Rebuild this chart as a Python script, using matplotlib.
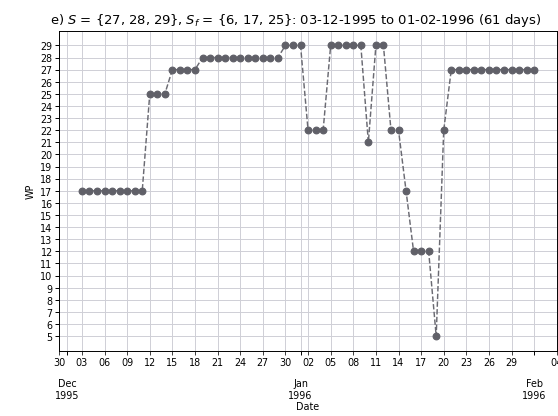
import matplotlib
matplotlib.use("Agg")
import matplotlib.pyplot as plt
import matplotlib.dates as mdates
import numpy as np
import pandas as pd

# daily WP values, 03-12-1995 .. 01-02-1996
start = "1995-12-03"
end = "1996-02-01"
wp = [17, 17, 17, 17, 17, 17, 17, 17, 17,
      25, 25, 25,
      27, 27, 27, 27,
      28, 28, 28, 28, 28, 28, 28, 28, 28, 28, 28,
      29, 29, 29,
      22, 22, 22,
      29, 29, 29, 29, 29,
      21,
      29, 29,
      22, 22,
      17,
      12, 12, 12,
      5,
      22,
      27, 27, 27, 27, 27, 27, 27, 27, 27, 27, 27, 27]
dates = pd.date_range(start, end, freq="D")

title = ("e) $S$ = {27, 28, 29}, $S_f$ = {6, 17, 25}: "
         "03-12-1995 to 01-02-1996 (61 days)")

plt.rcParams["font.size"] = 8

fig = plt.figure(figsize=(6.4, 4.78), dpi=87.2)
ax = fig.add_axes([0.1063, 0.1566, 0.8914, 0.7674])

ax.plot(dates, wp, linestyle="--", color="#6a6a72", linewidth=1.2,
        marker="o", markersize=5.5, markerfacecolor="#606068",
        markeredgecolor="#606068")

# day ticks every 3 days, month labels underneath
minor_days = pd.date_range("1995-11-30", "1996-02-04", freq="3D")
ax.xaxis.set_major_locator(mdates.MonthLocator())
ax.xaxis.set_major_formatter(mdates.DateFormatter("%b\n%Y"))
ax.xaxis.set_minor_locator(plt.FixedLocator(mdates.date2num(minor_days)))
ax.xaxis.set_minor_formatter(mdates.DateFormatter("%d"))
ax.tick_params(axis="x", which="major", pad=20, length=3)
ax.tick_params(axis="x", which="minor", pad=2.5, length=3)
ax.tick_params(axis="y", length=3, pad=2.5)

ax.set_yticks(np.arange(5, 30))
ax.grid(True, which="both", color="#cfcfd6", linewidth=0.8)
ax.set_axisbelow(True)

ax.set_xlabel("Date", labelpad=1)
ax.set_ylabel("WP")
ax.set_title(title, fontsize=10.8, x=0.474)

fig.savefig("out.png", dpi=87.2)
